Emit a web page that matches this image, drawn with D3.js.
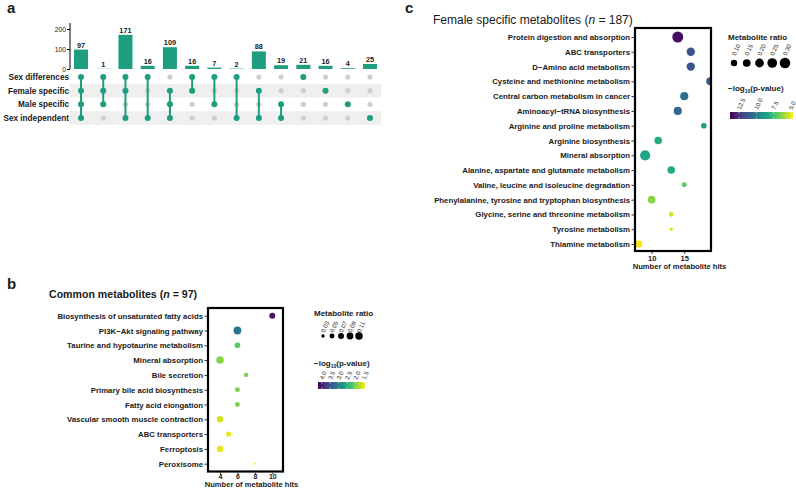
<!DOCTYPE html>
<html>
<head>
<meta charset="utf-8">
<script src="https://cdn.jsdelivr.net/npm/d3@7"></script>
<style>
  body { margin: 0; background: #fff; }
  text { font-family: "Liberation Sans", Arial, sans-serif; fill: #1a1a1a; }
  .panelLetter { font-size: 15px; font-weight: bold; }
  .tick text { font-family: "Liberation Sans", Arial, sans-serif; fill: #1a1a1a; }
  .legTitle { font-size: 8px; font-weight: bold; }
  .legLab { font-size: 6px; }
</style>
</head>
<body>
<div id="chart"></div>
<script>
var svgWidth = 796;
var svgHeight = 488;

// ---- panel a : upset data ----
var upsetSets = ["Sex differences", "Female specific", "Male specific", "Sex independent"];
var upsetCounts = [97, 1, 171, 16, 109, 16, 7, 2, 88, 19, 21, 16, 4, 25];
// membership of every intersection, in the order of upsetSets
var upsetMembers = [
  [1, 1, 1, 1], [1, 1, 1, 0], [1, 1, 0, 1], [1, 0, 0, 1], [0, 1, 1, 1],
  [1, 1, 0, 0], [1, 0, 1, 0], [1, 0, 0, 1], [0, 1, 0, 1], [0, 0, 1, 1],
  [1, 0, 0, 0], [0, 1, 0, 0], [0, 0, 1, 0], [0, 0, 0, 1]
];
var upsetTicks = [0, 100, 200];

// ---- panel b : common metabolites ----
var commonPathways = [
  "Biosynthesis of unsaturated fatty acids", "PI3K\u2212Akt signaling pathway",
  "Taurine and hypotaurine metabolism", "Mineral absorption", "Bile secretion",
  "Primary bile acid biosynthesis", "Fatty acid elongation",
  "Vascular smooth muscle contraction", "ABC transporters", "Ferroptosis", "Peroxisome"
];
var commonHits = [10, 6, 6, 4, 7, 6, 6, 4, 5, 4, 8];
var commonRatio = [0.07, 0.12, 0.062, 0.11, 0.041, 0.05, 0.05, 0.08, 0.058, 0.08, 0.025];
var commonLogP = [4.08, 3.16, 2.16, 1.94, 2.0, 2.0, 2.0, 1.63, 1.52, 1.52, 1.44];
var commonRatioBreaks = [0.03, 0.05, 0.07, 0.09, 0.11];
var commonLogPBreaks = [4.0, 3.5, 3.0, 2.5, 2.0, 1.5];
var commonXTicks = [4, 6, 8, 10];

// ---- panel c : female specific metabolites ----
var femalePathways = [
  "Protein digestion and absorption", "ABC transporters", "D\u2212Amino acid metabolism",
  "Cysteine and methionine metabolism", "Central carbon metabolism in cancer",
  "Aminoacyl\u2212tRNA biosynthesis", "Arginine and proline metabolism",
  "Arginine biosynthesis", "Mineral absorption", "Alanine, aspartate and glutamate metabolism",
  "Valine, leucine and isoleucine degradation",
  "Phenylalanine, tyrosine and tryptophan biosynthesis",
  "Glycine, serine and threonine metabolism", "Tyrosine metabolism", "Thiamine metabolism"
];
var femaleHits = [14, 16, 16, 19, 15, 14, 18, 11, 9, 13, 15, 10, 13, 13, 8];
var femaleRatio = [0.33, 0.18, 0.18, 0.17, 0.17, 0.17, 0.078, 0.146, 0.28, 0.146, 0.063, 0.146, 0.056, 0.037, 0.146];
var femaleLogP = [13.5, 11.5, 11.4, 11.3, 10.6, 10.8, 8.8, 8.2, 8.5, 8.3, 7.0, 6.3, 5.3, 5.15, 4.8];
var femaleRatioBreaks = [0.10, 0.15, 0.20, 0.25, 0.30];
var femaleLogPBreaks = [12.5, 10.0, 7.5, 5.0];
var femaleXTicks = [10, 15];

var green = "#1e9e7e";

var svg = d3.select("#chart")
  .append("svg")
  .attr("width", svgWidth)
  .attr("height", svgHeight);

var defs = svg.append("defs");

// panel letters
svg.append("text").attr("class", "panelLetter").attr("x", 7).attr("y", 13).text("a");
svg.append("text").attr("class", "panelLetter").attr("x", 7).attr("y", 289).text("b");
svg.append("text").attr("class", "panelLetter").attr("x", 405).attr("y", 13).text("c");

// =============================
// panel a : upset plot
// =============================
var colX = d3.scalePoint().domain(d3.range(upsetCounts.length)).range([81, 370]);
var barY = d3.scaleLinear().domain([0, 230]).range([69, 23]);
var rowY = d3.scalePoint().domain(upsetSets).range([77, 118]);
var barW = 14;

var upsetG = svg.append("g");

// stripes behind every second row
upsetG.selectAll("rect.stripe")
  .data(upsetSets.filter((d, i) => i % 2 === 1))
  .enter()
  .append("rect")
  .attr("x", 70)
  .attr("width", 311)
  .attr("y", d => rowY(d) - 6.8)
  .attr("height", 13.6)
  .attr("fill", "#efefef");

upsetG.selectAll("rect.bar")
  .data(upsetCounts)
  .enter()
  .append("rect")
  .attr("x", (d, i) => colX(i) - barW / 2)
  .attr("y", d => barY(d))
  .attr("width", barW)
  .attr("height", d => barY(0) - barY(d))
  .attr("fill", green);

upsetG.selectAll("text.barLab")
  .data(upsetCounts)
  .enter()
  .append("text")
  .attr("x", (d, i) => colX(i))
  .attr("y", d => barY(d) - 2)
  .attr("text-anchor", "middle")
  .attr("font-size", "7.3px")
  .attr("font-weight", "bold")
  .text(d => d);

var upAxis = upsetG.append("g")
  .attr("transform", "translate(70,0)")
  .call(d3.axisLeft(barY).tickValues(upsetTicks).tickSize(3).tickSizeOuter(0));
upAxis.select(".domain").attr("d", "M0,23V69");
upAxis.selectAll("text").attr("font-size", "6.8px").attr("x", -4);

upsetG.selectAll("text.setLab")
  .data(upsetSets)
  .enter()
  .append("text")
  .attr("x", 69)
  .attr("y", d => rowY(d) + 2.9)
  .attr("text-anchor", "end")
  .attr("font-size", "8.2px")
  .attr("font-weight", "bold")
  .text(d => d);

// dots and connecting lines
upsetMembers.forEach(function(m, i) {
  var on = [];
  m.forEach(function(v, j) { if (v) on.push(j); });
  m.forEach(function(v, j) {
    upsetG.append("circle")
      .attr("cx", colX(i))
      .attr("cy", rowY(upsetSets[j]))
      .attr("r", 2.6)
      .attr("fill", "#cfcfcf");
  });
  if (on.length > 1) {
    upsetG.append("line")
      .attr("x1", colX(i)).attr("x2", colX(i))
      .attr("y1", rowY(upsetSets[d3.min(on)]))
      .attr("y2", rowY(upsetSets[d3.max(on)]))
      .attr("stroke", green)
      .attr("stroke-width", 2);
  }
  on.forEach(function(j) {
    upsetG.append("circle")
      .attr("cx", colX(i))
      .attr("cy", rowY(upsetSets[j]))
      .attr("r", 3)
      .attr("fill", green);
  });
});

// =============================
// dot plot helper for b and c
// =============================
function sizeScale(vmin, vmax, rmin, rmax) {
  var lin = d3.scaleLinear().domain([0, 1]).range([rmin, rmax]);
  return function(v) {
    return lin(Math.sqrt(Math.max(0, (v - vmin) / (vmax - vmin))));
  };
}

function dotPlot(opt) {
  var g = svg.append("g");
  var x = d3.scaleLinear().domain(opt.xDomain).range([opt.left, opt.right]);
  var y = d3.scalePoint().domain(opt.cats).range(opt.yRange);
  var color = d3.scaleSequential(d3.interpolateViridis).domain(opt.cDomain);
  var rs = sizeScale(opt.rDomain[0], opt.rDomain[1], opt.rRange[0], opt.rRange[1]);

  // title
  var t = g.append("text")
    .attr("x", opt.titleX)
    .attr("y", opt.titleY)
    .attr("font-size", opt.titleSize)
    .attr("font-weight", opt.titleWeight);
  t.append("tspan").text(opt.title + " (");
  t.append("tspan").attr("font-style", "italic").text("n");
  t.append("tspan").text(" = " + opt.n + ")");

  defs.append("clipPath").attr("id", opt.id + "clip")
    .append("rect")
    .attr("x", opt.left).attr("y", opt.top)
    .attr("width", opt.right - opt.left).attr("height", opt.bottom - opt.top);

  g.append("g")
    .attr("clip-path", "url(#" + opt.id + "clip)")
    .selectAll("circle")
    .data(opt.cats)
    .enter()
    .append("circle")
    .attr("cx", (d, i) => x(opt.hits[i]))
    .attr("cy", d => y(d))
    .attr("r", (d, i) => rs(opt.ratio[i]))
    .attr("fill", (d, i) => color(opt.logp[i]));

  g.append("rect")
    .attr("x", opt.left).attr("y", opt.top)
    .attr("width", opt.right - opt.left).attr("height", opt.bottom - opt.top)
    .attr("fill", "none")
    .attr("stroke", "#000")
    .attr("stroke-width", 2.2);

  var yAxis = g.append("g")
    .attr("transform", `translate(${opt.left - 1}, 0)`)
    .call(d3.axisLeft(y).tickSize(2.5).tickPadding(1.5));
  yAxis.select(".domain").remove();
  yAxis.selectAll("line").attr("stroke", "#333");
  yAxis.selectAll("text").attr("font-size", "7.8px").attr("font-weight", "bold");

  var xAxis = g.append("g")
    .attr("transform", `translate(0, ${opt.bottom + 1})`)
    .call(d3.axisBottom(x).tickValues(opt.xTicks).tickSize(2).tickPadding(opt.xPad));
  xAxis.select(".domain").remove();
  xAxis.selectAll("line").attr("stroke", "#333");
  xAxis.selectAll("text").attr("font-size", opt.xTickSize).attr("font-weight", "bold");

  g.append("text")
    .attr("x", opt.xTitleX)
    .attr("y", opt.xTitleY)
    .attr("text-anchor", "middle")
    .attr("font-size", "7.6px")
    .attr("font-weight", "bold")
    .text("Number of metabolite hits");

  // size legend
  var lg = g.append("g").attr("transform", `translate(${opt.legX}, ${opt.legY})`);
  lg.append("text").attr("class", "legTitle").attr("x", 0).attr("y", 0).text("Metabolite ratio");
  var sx = d3.scalePoint().domain(opt.rBreaks).range(opt.rLegRange);
  lg.selectAll("circle")
    .data(opt.rBreaks)
    .enter()
    .append("circle")
    .attr("cx", d => sx(d))
    .attr("cy", opt.rDotY)
    .attr("r", d => rs(d))
    .attr("fill", "#000");
  lg.selectAll("text.rl")
    .data(opt.rBreaks)
    .enter()
    .append("text")
    .attr("class", "legLab")
    .attr("font-size", opt.legLabSize)
    .attr("transform", d => `translate(${sx(d) + 1.5}, ${opt.rLabY}) rotate(-65)`)
    .text(d => d.toFixed(2));

  // colour bar legend
  var cg = g.append("g").attr("transform", `translate(${opt.legX}, ${opt.cbTitleY})`);
  var ct = cg.append("text").attr("class", "legTitle").attr("x", 0).attr("y", 0);
  ct.append("tspan").text("\u2212log");
  ct.append("tspan").attr("font-size", "5px").attr("dy", 1.5).text("10");
  ct.append("tspan").attr("dy", -1.5).text("(p-value)");

  var grad = defs.append("linearGradient").attr("id", opt.id + "grad");
  d3.range(0, 1.0001, 0.05).forEach(function(s) {
    grad.append("stop").attr("offset", s).attr("stop-color", d3.interpolateViridis(s));
  });
  var cbx = d3.scaleLinear().domain(opt.cDomain).range([opt.cbX0, opt.cbX1]);
  cg.append("rect")
    .attr("x", opt.cbX0).attr("y", opt.cbY)
    .attr("width", opt.cbX1 - opt.cbX0).attr("height", opt.cbH)
    .attr("fill", "url(#" + opt.id + "grad)");
  cg.selectAll("line.cbt")
    .data(opt.cBreaks)
    .enter()
    .append("line")
    .attr("x1", d => cbx(d)).attr("x2", d => cbx(d))
    .attr("y1", opt.cbY).attr("y2", opt.cbY + 1.5)
    .attr("stroke", "#fff").attr("stroke-width", 0.6);
  cg.selectAll("line.cbb")
    .data(opt.cBreaks)
    .enter()
    .append("line")
    .attr("x1", d => cbx(d)).attr("x2", d => cbx(d))
    .attr("y1", opt.cbY + opt.cbH - 1.5).attr("y2", opt.cbY + opt.cbH)
    .attr("stroke", "#fff").attr("stroke-width", 0.6);
  cg.selectAll("text.cl")
    .data(opt.cBreaks)
    .enter()
    .append("text")
    .attr("class", "legLab")
    .attr("font-size", opt.legLabSize)
    .attr("transform", d => `translate(${cbx(d) + 1.5}, ${opt.cbY - 2}) rotate(-65)`)
    .text(d => d.toFixed(1));
}

// panel b
dotPlot({
  id: "b",
  title: "Common metabolites", n: 97,
  titleX: 49, titleY: 298, titleSize: "10.6px", titleWeight: "bold",
  cats: commonPathways, hits: commonHits, ratio: commonRatio, logp: commonLogP,
  left: 208, right: 283, top: 308, bottom: 471.5,
  yRange: [315.7, 463.7],
  xDomain: [2.62, 11.23], xTicks: commonXTicks, xPad: 0, xTickSize: "7px",
  xTitleX: 251.5, xTitleY: 487,
  cDomain: [4.22, 1.44], cBreaks: commonLogPBreaks,
  rDomain: [0.025, 0.12], rRange: [1, 3.9], rBreaks: commonRatioBreaks,
  legX: 314, legY: 316, rLegRange: [9, 45], rDotY: 20, rLabY: 17, legLabSize: "5.8px",
  cbTitleY: 366, cbX0: 4, cbX1: 51, cbY: 16, cbH: 7
});

// panel c
dotPlot({
  id: "c",
  title: "Female specific metabolites", n: 187,
  titleX: 433, titleY: 24, titleSize: "12px", titleWeight: "normal",
  cats: femalePathways, hits: femaleHits, ratio: femaleRatio, logp: femaleLogP,
  left: 635, right: 711, top: 28, bottom: 251,
  yRange: [37, 244],
  xDomain: [7.44, 19.1], xTicks: femaleXTicks, xPad: 1.5, xTickSize: "7.6px",
  xTitleX: 679.5, xTitleY: 268.5,
  cDomain: [13.8, 4.7], cBreaks: femaleLogPBreaks,
  rDomain: [0.03, 0.33], rRange: [1, 5.5], rBreaks: femaleRatioBreaks,
  legX: 728, legY: 40, rLegRange: [6, 57], rDotY: 23, rLabY: 16, legLabSize: "6.5px",
  cbTitleY: 91, cbX0: 2, cbX1: 65, cbY: 21, cbH: 7
});
</script>
</body>
</html>
